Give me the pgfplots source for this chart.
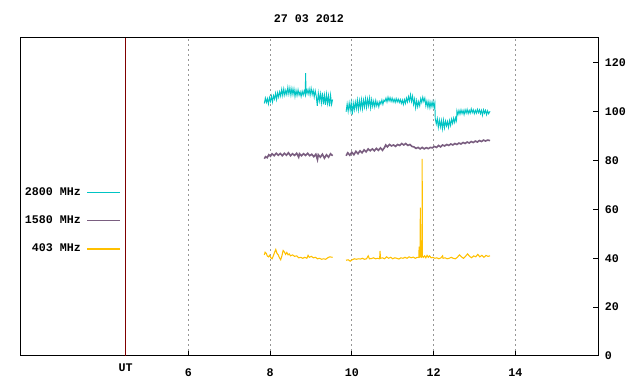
\documentclass[border=0pt]{standalone}
\usepackage{pgfplots}
\pgfplotsset{compat=1.18}
\usepackage{fontspec}
\setmainfont{Liberation Mono}
\definecolor{cteal}{RGB}{0,196,196}
\definecolor{cpurp}{RGB}{122,94,128}
\definecolor{cyell}{RGB}{255,192,0}
\definecolor{cdred}{RGB}{128,0,0}
\definecolor{cgrid}{RGB}{150,150,150}
\begin{document}
\begin{tikzpicture}
\useasboundingbox (0,0) rectangle (480pt,288pt);
\begin{axis}[
  at={(15pt,21pt)}, anchor=south west,
  scale only axis, width=433.5pt, height=238.5pt,
  xmin=1.885, xmax=16.02, ymin=0, ymax=130.2,
  clip mode=individual,
  font=\fontsize{8.75}{10}\selectfont\bfseries,
  /pgf/number format/assume math mode=true,
  xtick={6,8,10,12,14}, ytick={0,20,40,60,80,100,120},
  xtick pos=bottom, ytick pos=right,
  tick align=inside, major tick length=3.75pt,
  tick style={black, line width=0.75pt},
  axis line style={black, line width=0.75pt},
  xmajorgrids, major grid style={cgrid, line width=0.75pt, dash pattern=on 1.5pt off 2.25pt},
  xticklabel style={anchor=north, inner sep=0pt, yshift=-9.5pt},
  yticklabel style={anchor=west, inner sep=0pt, xshift=5pt},
  title={27 03 2012},
  title style={at={(axis description cs:0.5,1)}, anchor=center, yshift=8.25pt, inner sep=0pt},
  unbounded coords=jump,
  legend plot pos=right,
  legend cell align=right,
  legend style={draw=none, fill=none, at={(axis description cs:0.1747,0.5315)}, anchor=north east,
    row sep=14pt, inner sep=0pt, nodes={inner sep=0pt}, font=\fontsize{8.75}{10}\selectfont\bfseries},
  legend image code/.code={\path (0pt,0pt); \draw[#1, line width=0.9pt] (4pt,0pt) -- (28.75pt,0pt);},
]
\addplot[cdred, line width=0.75pt, forget plot] coordinates {(4.465,0) (4.465,130.2)};
\addplot[cteal, line width=0.7pt] table {
x y
7.860 103.4
7.885 105.6
7.910 103.8
7.935 105.4
7.960 103.2
7.985 105.8
8.010 104.2
8.035 106.4
8.060 104.0
8.085 106.6
8.110 105.2
8.135 107.6
8.160 105.0
8.185 107.8
8.210 106.0
8.235 108.2
8.260 106.4
8.285 109.2
8.310 106.6
8.335 109.4
8.360 106.8
8.385 108.8
8.410 107.0
8.435 110.0
8.460 107.2
8.485 109.8
8.510 106.8
8.535 109.6
8.560 107.0
8.585 109.4
8.610 106.2
8.635 108.8
8.660 106.6
8.685 109.0
8.710 106.8
8.735 108.2
8.760 106.2
8.785 108.4
8.810 106.8
8.835 108.6
8.860 107.0
8.870 115.8
8.880 107.4
8.905 109.0
8.930 107.2
8.955 109.4
8.980 106.8
9.005 109.6
9.030 107.0
9.055 108.8
9.080 106.0
9.105 108.6
9.130 106.4
9.155 102.4
9.180 107.6
9.205 104.4
9.230 107.4
9.255 103.6
9.280 107.8
9.305 103.0
9.330 106.8
9.355 102.8
9.380 107.2
9.405 103.4
9.430 106.6
9.455 102.2
9.480 106.8
9.505 103.0
9.530 105.0
9.700 nan
9.860 100.0
9.885 103.2
9.910 100.2
9.935 103.6
9.960 100.6
9.985 103.8
10.010 98.8
10.035 103.6
10.060 100.8
10.085 104.0
10.110 101.2
10.135 104.8
10.160 100.8
10.185 104.6
10.210 101.4
10.235 105.0
10.260 101.2
10.285 104.8
10.310 102.0
10.335 105.4
10.360 101.8
10.385 105.2
10.410 102.4
10.435 105.6
10.460 101.6
10.485 105.0
10.510 102.2
10.535 104.4
10.560 102.0
10.585 104.6
10.610 102.4
10.635 104.0
10.660 102.0
10.685 104.2
10.710 103.2
10.735 104.8
10.760 103.0
10.785 104.8
10.810 104.2
10.835 105.6
10.860 104.0
10.885 106.0
10.910 104.4
10.935 105.8
10.960 104.2
10.985 105.6
11.010 104.0
11.035 105.2
11.060 103.8
11.085 105.4
11.110 104.0
11.135 105.2
11.160 103.8
11.185 105.0
11.210 103.4
11.235 104.8
11.260 103.0
11.285 105.0
11.310 103.4
11.335 105.6
11.360 104.0
11.385 106.2
11.410 104.4
11.435 107.0
11.460 104.2
11.485 106.4
11.510 103.0
11.535 105.2
11.560 101.6
11.585 104.6
11.610 102.0
11.635 104.2
11.660 102.4
11.685 105.4
11.710 103.8
11.735 106.0
11.760 104.2
11.785 105.6
11.810 102.4
11.835 104.4
11.860 101.8
11.885 104.2
11.910 101.6
11.935 104.0
11.960 102.0
11.985 104.2
12.010 101.8
12.030 103.6
12.040 97.2
12.065 95.0
12.090 97.2
12.115 93.6
12.140 96.6
12.165 93.8
12.190 96.4
12.215 93.0
12.240 96.6
12.265 93.4
12.290 96.2
12.315 94.2
12.340 96.0
12.365 93.6
12.390 96.4
12.415 94.4
12.440 97.0
12.465 95.2
12.490 97.4
12.515 95.6
12.540 97.6
12.560 96.4
12.570 100.4
12.595 98.8
12.620 100.6
12.645 99.0
12.670 100.8
12.695 99.2
12.720 100.6
12.745 98.8
12.770 100.8
12.795 99.4
12.820 101.0
12.845 99.2
12.870 100.6
12.895 99.4
12.920 101.2
12.945 99.6
12.970 100.8
12.995 99.2
13.020 100.6
13.045 99.4
13.070 101.0
13.095 99.6
13.120 100.8
13.145 99.2
13.170 100.6
13.195 98.6
13.220 100.8
13.245 99.4
13.270 100.6
13.295 98.8
13.320 100.4
13.345 99.2
13.380 100.2
};
\addlegendentry{2800 MHz}
\addplot[cpurp, line width=1.2pt] table {
x y
7.86 80.8
7.89 81.6
7.93 81.2
7.97 82.4
8.01 81.8
8.05 82.8
8.10 82.0
8.15 83.0
8.20 82.2
8.25 82.9
8.30 82.0
8.35 83.0
8.40 82.2
8.45 83.2
8.50 82.0
8.55 82.8
8.60 82.1
8.65 83.0
8.70 81.4
8.72 82.8
8.77 82.0
8.82 82.8
8.87 82.1
8.92 83.0
8.97 82.0
9.02 82.6
9.07 81.6
9.12 82.6
9.16 80.4
9.18 82.4
9.23 81.4
9.28 82.6
9.33 81.0
9.38 82.4
9.43 81.4
9.48 82.8
9.53 82.0
9.70 nan
9.86 82.0
9.90 83.2
9.95 82.2
10.00 83.4
10.05 82.4
10.10 83.8
10.15 82.8
10.20 84.0
10.25 83.2
10.30 84.4
10.35 83.6
10.40 84.8
10.45 84.0
10.50 84.8
10.55 84.0
10.60 85.0
10.65 84.2
10.70 85.2
10.75 84.2
10.80 85.4
10.83 86.4
10.87 85.6
10.92 86.6
10.97 86.0
11.02 86.4
11.07 85.8
11.12 86.6
11.17 86.2
11.22 87.0
11.27 86.4
11.32 87.0
11.37 86.2
11.42 86.6
11.47 85.8
11.52 85.6
11.57 85.0
11.62 85.4
11.67 84.8
11.72 85.4
11.77 84.8
11.82 85.3
11.87 84.9
11.92 85.4
11.97 85.2
12.02 85.8
12.07 85.4
12.12 86.2
12.17 85.6
12.22 86.4
12.27 86.0
12.32 86.6
12.37 86.2
12.42 86.8
12.47 86.4
12.52 87.0
12.57 86.6
12.62 87.2
12.67 86.8
12.72 87.4
12.77 87.0
12.82 87.6
12.87 87.2
12.92 87.8
12.97 87.4
13.02 88.0
13.07 87.6
13.12 88.2
13.17 87.8
13.22 88.4
13.27 88.0
13.32 88.4
13.38 88.2
};
\addlegendentry{1580 MHz}
\addplot[cyell, line width=0.8pt] table {
x y
7.86 41.4
7.88 42.5
7.91 42.0
7.93 41.0
7.96 40.6
7.99 41.2
8.02 40.2
8.05 39.8
8.08 41.0
8.11 42.4
8.14 43.6
8.17 42.0
8.20 41.4
8.23 40.2
8.26 39.4
8.29 41.0
8.32 43.2
8.35 42.6
8.38 41.6
8.41 42.4
8.44 41.4
8.47 41.8
8.50 41.0
8.55 41.4
8.60 40.8
8.65 41.0
8.70 40.2
8.75 40.4
8.80 40.0
8.85 40.4
8.90 40.0
8.93 41.2
8.96 40.4
9.01 40.8
9.06 40.2
9.11 40.4
9.16 39.8
9.21 40.0
9.26 39.6
9.31 39.8
9.36 39.6
9.41 40.2
9.46 40.6
9.53 40.4
9.70 nan
9.86 39.2
9.91 39.4
9.96 38.8
10.01 39.4
10.06 39.8
10.11 39.6
10.16 39.8
10.21 39.7
10.26 40.0
10.31 39.6
10.36 39.8
10.40 41.0
10.43 39.8
10.48 39.9
10.53 40.2
10.58 39.8
10.63 40.0
10.68 39.8
10.69 43.0
10.70 40.0
10.75 40.2
10.80 39.8
10.85 40.6
10.90 40.0
10.95 40.4
11.00 39.8
11.05 40.2
11.10 40.0
11.15 39.7
11.20 40.2
11.25 40.0
11.30 40.4
11.35 40.0
11.40 40.6
11.45 40.2
11.50 40.5
11.55 40.0
11.60 40.4
11.64 40.4
11.645 44.8
11.65 40.4
11.67 40.6
11.675 60.7
11.68 40.8
11.70 40.4
11.715 40.6
11.72 80.7
11.725 41.0
11.75 40.4
11.78 41.0
11.81 40.2
11.84 41.2
11.87 40.4
11.90 41.0
11.94 40.2
11.98 40.4
12.03 40.0
12.08 40.2
12.13 39.8
12.18 40.2
12.22 41.0
12.23 40.0
12.28 40.2
12.33 39.8
12.38 40.0
12.43 40.4
12.48 40.0
12.53 39.8
12.58 40.4
12.63 41.4
12.68 40.6
12.73 40.0
12.78 40.8
12.83 41.8
12.88 40.8
12.93 40.2
12.98 41.0
13.03 40.6
13.08 41.6
13.13 40.6
13.18 41.2
13.23 40.4
13.28 41.2
13.33 40.8
13.38 41.0
};
\addlegendentry{403 MHz}
\node[anchor=north, inner sep=0pt, font=\fontsize{8.75}{10}\selectfont\bfseries] at (axis cs:4.465,0) [yshift=-6pt] {UT};
\end{axis}
\end{tikzpicture}
\end{document}
